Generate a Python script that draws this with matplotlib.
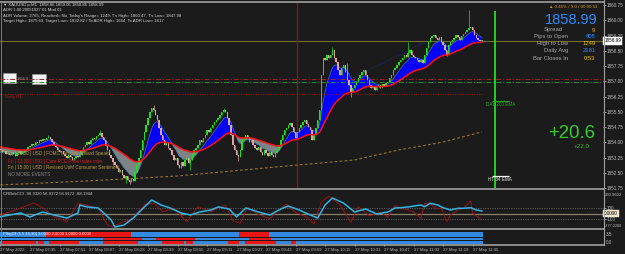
import numpy as np
import matplotlib
matplotlib.use("Agg")
import matplotlib.pyplot as plt
from matplotlib.patches import Rectangle

# ---- XAUUSD M1, 27 May 2022, first bar 07:19 ----
first_open = 1853.67
closes = [
    1853.62, 1853.52, 1853.57, 1853.42, 1853.47, 1853.38, 1853.52, 1853.42, 1853.33, 1853.47, 1853.57, 1853.42, 1853.52, 1853.62, 1853.67, 1853.77,
    1853.82, 1853.92, 1853.87, 1854.01, 1853.97, 1854.11, 1854.06, 1854.16, 1854.11, 1854.21, 1854.26, 1854.16, 1854.01, 1853.87, 1853.77, 1853.62,
    1853.52, 1853.57, 1853.42, 1853.33, 1853.23, 1853.38, 1853.28, 1853.13, 1853.23, 1853.33, 1853.28, 1853.38, 1853.62, 1853.77, 1853.87, 1854.01,
    1853.92, 1854.11, 1854.21, 1854.16, 1854.31, 1854.36, 1854.46, 1854.26, 1854.11, 1853.82, 1853.62, 1853.38, 1853.23, 1853.03, 1852.88, 1852.74,
    1852.54, 1852.64, 1852.39, 1852.24, 1852.34, 1852.15, 1852.05, 1852.19, 1852.10, 1852.54, 1852.88, 1853.23, 1853.62, 1854.11, 1854.51, 1854.85,
    1855.20, 1855.49, 1855.69, 1855.59, 1855.34, 1855.10, 1854.70, 1854.36, 1854.11, 1853.87, 1854.01, 1853.72, 1853.62, 1853.38, 1853.13, 1853.23,
    1852.88, 1852.74, 1853.03, 1852.83, 1853.13, 1853.23, 1852.98, 1853.13, 1853.38, 1853.62, 1853.72, 1853.87, 1854.11, 1854.01, 1854.21, 1854.36,
    1854.60, 1854.51, 1854.70, 1854.85, 1855.00, 1855.10, 1855.20, 1855.34, 1855.49, 1855.59, 1855.49, 1855.20, 1854.85, 1854.36, 1853.87, 1853.62,
    1853.38, 1853.28, 1853.62, 1854.11, 1854.21, 1854.36, 1854.26, 1854.01, 1854.11, 1853.87, 1853.72, 1853.62, 1853.77, 1853.52, 1853.38, 1853.62,
    1853.47, 1853.33, 1853.52, 1853.38, 1853.28, 1853.47, 1853.62, 1853.87, 1854.11, 1854.36, 1854.60, 1854.70, 1854.85, 1854.95, 1854.75, 1854.51,
    1854.21, 1854.51, 1854.70, 1854.85, 1855.00, 1855.10, 1854.90, 1854.75, 1854.60, 1854.11, 1854.36, 1854.70, 1855.10, 1855.59, 1857.31, 1858.15,
    1858.05, 1858.29, 1858.15, 1858.29, 1858.54, 1858.15, 1857.95, 1857.56, 1857.31, 1857.65, 1857.80, 1857.46, 1857.06, 1856.82, 1856.47, 1856.67,
    1856.82, 1856.97, 1857.16, 1857.31, 1857.46, 1857.56, 1857.31, 1857.06, 1856.82, 1856.67, 1856.77, 1856.57, 1856.72, 1856.82, 1856.67, 1856.87,
    1856.77, 1856.92, 1856.97, 1857.16, 1857.31, 1857.56, 1857.65, 1857.80, 1857.95, 1858.05, 1858.15, 1858.29, 1858.20, 1858.39, 1858.54, 1858.29,
    1858.20, 1858.15, 1858.05, 1857.95, 1858.05, 1857.90, 1858.29, 1858.64, 1858.93, 1859.13, 1859.23, 1859.28, 1859.13, 1859.03, 1859.18, 1858.93,
    1858.79, 1858.54, 1858.29, 1858.79, 1858.93, 1859.03, 1859.13, 1859.28, 1859.18, 1859.03, 1859.23, 1859.33, 1859.43, 1859.52, 1859.62, 1859.67,
    1859.52, 1859.28, 1859.13, 1859.03, 1858.98, 1858.99,
]
# visible wick extremes (bar index -> price)
wick_high = {26: 1854.36, 54: 1854.60, 83: 1855.83, 121: 1855.69, 180: 1858.69,
             188: 1857.90, 221: 1858.93, 254: 1860.51}
wick_low = {61: 1852.90, 68: 1851.98, 70: 1851.95, 103: 1852.64, 129: 1853.10,
            190: 1856.23, 242: 1858.25}

# higher timeframe EMA (dotted brown), sampled at bar index
htf_ema_t = [0, 48, 96, 144, 192, 216, 240, 261]
htf_ema = [1851.90, 1852.10, 1852.34, 1852.74, 1853.13, 1853.62, 1854.01, 1854.51]

# faint trend line (bar index, price)
trend_t = [191, 229]
trend_p = [1857.16, 1858.88]

bid = 1858.99
level_red = 1857.10
level_green = 1856.95
daily_r1 = 1856.37
day200_level = 1856.04
ht34_level = 1852.35
marker_bar_green = 268.4
marker_bar_brown = 161

price_ticks = [1851.75, 1852.50, 1853.25, 1854.00, 1854.75, 1855.50, 1856.25,
               1857.00, 1857.75, 1858.50, 1859.25, 1860.00, 1860.75]

# CCI panel (bar index, value)
cci_blue_t = [0, 5, 11, 16, 20, 23, 29, 36, 42, 43, 47, 53, 56, 60, 62, 67, 72, 78, 82, 87,
              92, 98, 103, 108, 114, 118, 124, 128, 133, 140, 146, 152, 156, 162, 168, 172,
              176, 180, 186, 192, 198, 204, 210, 214, 217, 222, 228, 230, 233, 237, 240,
              244, 248, 251, 255, 258, 261]
cci_blue = [-55, -26, 9, -60, -9, 26, -26, -78, 9, 147, 112, 95, 9, -112, -233, -198, -78, 112, 233, 147,
            95, 9, -26, 26, 60, 112, 78, -60, 95, 26, -26, 78, 129, 60, -26, -78,
            147, 267, 181, 26, 78, -9, 26, 95, 100, 117, 147, 117, 176, 147, 100,
            60, 90, 90, 100, 60, 43]
cci_red_t = [0, 8, 18, 23, 29, 36, 42, 46, 53, 58, 61, 67, 72, 78, 83, 88, 94, 101, 107, 114,
             118, 122, 126, 130, 134, 140, 146, 150, 155, 160, 166, 170, 174, 178, 184, 190,
             194, 200, 206, 210, 214, 217, 221, 224, 228, 230, 233, 236, 239, 242, 244, 248,
             251, 255, 256, 260]
cci_red = [-26, 60, 181, 95, -55, -141, 181, 147, 95, -198, -228, -141, -78, 147, 181, 31, 90, -141, 117, 31,
           95, 140, -120, -170, 110, -20, -90, 40, 160, 20, -60, -180, 200, 300, 150, -150,
           120, -40, 20, -60, 140, 90, 60, 31, -83, 176, 159, 90, 90, -141, -26, 60,
           90, 216, 3, -83]

# PSig panel: red runs (first bar, last bar) per row, rest blue
psig_row1_red = [(25, 70), (130, 145)]
psig_row2_red = [(56, 76), (85, 105), (135, 146)]
psig_row3_red = [(1, 19), (21, 23), (27, 42), (56, 74), (88, 97), (98, 99), (101, 104),
                 (124, 129), (133, 149), (158, 160)]

time_ticks = [0, 16, 32, 48, 64, 80, 96, 112, 128, 144, 160, 176, 192, 208, 224, 240, 256]
time_labels = ["27 May 2022", "27 May 07:35", "27 May 07:51", "27 May 08:07", "27 May 08:23",
               "27 May 08:39", "27 May 08:55", "27 May 09:11", "27 May 09:27", "27 May 09:43",
               "27 May 09:59", "27 May 10:15", "27 May 10:31", "27 May 10:47", "27 May 11:03",
               "27 May 11:19", "27 May 11:35"]


def ema(values, period, start):
    k = 2.0 / (period + 1)
    out, prev = [], start
    for v in values:
        prev = prev + k * (v - prev)
        out.append(prev)
    return np.array(out)


BG = "#1b1b1b"
GRID = "#a0a0a0"
SANS = ["Liberation Sans", "DejaVu Sans"]
SCALE_FS = 3.3
BULL = "#1fe01f"
BEAR = "#e3a3a3"

fig = plt.figure(figsize=(6.25, 2.54), dpi=100, facecolor=BG)
W, H = 625.0, 254.0
XL = (-0.27, 326.7)


def px_axes(top, bottom):
    return fig.add_axes([0, 1 - bottom / H, 603 / W, (bottom - top) / H], facecolor="none")


ax = px_axes(2, 188)
ax_cci = px_axes(190, 229)
ax_sig = px_axes(230, 244)
for a in (ax, ax_cci, ax_sig):
    a.set_xlim(*XL)
    for s in a.spines.values():
        s.set_visible(False)
    a.tick_params(axis="x", bottom=False, labelbottom=False)

# overlay in pixel units (frame, panel texts)
ov = fig.add_axes([0, 0, 1, 1], facecolor="none")
ov.set_xlim(0, W)
ov.set_ylim(H, 0)
ov.axis("off")

# ---- main price panel ----
t = np.arange(len(closes))
c = np.array(closes)
o = np.array([first_open] + closes[:-1])
hi = np.maximum(o, c)
lo = np.minimum(o, c)
for i, v in wick_high.items():
    hi[i] = max(hi[i], v)
for i, v in wick_low.items():
    lo[i] = min(lo[i], v)
up = c >= o
cols = np.where(up, BULL, BEAR)

fast = ema(closes, 8, 1853.47)
slow = ema(closes, 34, 1853.77)

ax.set_ylim(1851.75, 1860.90)
ax.fill_between(t, fast, slow, where=fast >= slow, interpolate=True, color="#0000ff", lw=0, zorder=1)
ax.fill_between(t, fast, slow, where=fast < slow, interpolate=True, color="#7c8486", lw=0, zorder=1)
ax.plot(t, fast, color="#3a7fa8", lw=0.5, zorder=1.5)
ax.plot(htf_ema_t, htf_ema, color="#9a7430", lw=0.8, ls=(0, (2.5, 2)), zorder=1.5)
ax.plot(trend_t, trend_p, color="#1c2c8c", lw=0.6, ls=(0, (1.5, 1.5)), zorder=1.5)

# price-label boxes of the two level lines (left edge)
ax.add_patch(Rectangle((3.3, 72.7), 12.7, 10, fc="#f4f4f4", ec="#9a9a9a", lw=0.4,
                       transform=ov.transData, zorder=1.8))
ax.add_patch(Rectangle((32.3, 74), 13.4, 10, fc="#f4f4f4", ec="#9a9a9a", lw=0.4,
                       transform=ov.transData, zorder=1.8))

ax.axhline(bid, color="#6e6e2e", lw=0.8, zorder=0.5)
ax.axhline(level_red, color="#a82020", lw=0.7, ls=(0, (5, 2, 1, 2)), zorder=2)
ax.axhline(level_green, color="#1f9a1f", lw=0.7, ls=(0, (5, 2, 1, 2)), zorder=2)
ax.hlines(daily_r1, XL[0], 261, color="#b01010", lw=0.7, ls=(0, (1, 1.5)), zorder=2)
ax.axvline(marker_bar_brown, color="#5a2a1e", lw=1.0, zorder=0.6)
ax.vlines(marker_bar_green, 1851.75, 1860.45, color="#22ee22", lw=1.2, zorder=3)
ax.hlines(day200_level, 266.5, 275.5, color="#22aa22", lw=0.8, zorder=3)
ax.hlines(ht34_level, 266.5, 276, color="#f0f0f0", lw=0.9, zorder=3)

ax.vlines(t, lo, hi, colors=cols, lw=0.5, zorder=4)
ax.bar(t, np.maximum(np.abs(c - o), 0.03), bottom=np.minimum(o, c), width=0.75,
       color=cols, lw=0, zorder=4)
ax.plot(t, slow, color="#ff1010", lw=1.1, zorder=5)

ax.yaxis.tick_right()
ax.set_yticks(price_ticks)
ax.set_yticklabels([f"{p:.2f}" for p in price_ticks])
ax.tick_params(axis="y", colors="#bdbdbd", labelsize=SCALE_FS, length=2, width=0.5, pad=0.8)
for lbl in ax.get_yticklabels():
    lbl.set_fontfamily(SANS)
ax.text(1.002, bid, f"{bid:.2f}", transform=ax.get_yaxis_transform(), fontsize=SCALE_FS,
        family=SANS, color="#000000", va="center", ha="left",
        bbox=dict(boxstyle="square,pad=0.3", fc="#ffffff", ec="#ffffff", lw=0.3))

# ---- CCI panel ----
ax_cci.set_ylim(-267, 405)
ax_cci.axhline(100, color="#8a8a8a", lw=0.5, ls=(0, (1, 1.5)))
ax_cci.axhline(-100, color="#8a8a8a", lw=0.5, ls=(0, (1, 1.5)))
ax_cci.axhline(0, color="#8c7e66", lw=0.9)
ax_cci.plot(cci_red_t, cci_red, color="#9e1212", lw=0.7)
ax_cci.plot(cci_blue_t, cci_blue, color="#2fb4e6", lw=1.1)
ax_cci.yaxis.tick_right()
ax_cci.set_yticks([100, -100])
ax_cci.set_yticklabels(["100", "-100"])
ax_cci.tick_params(axis="y", colors="#bdbdbd", labelsize=SCALE_FS, length=2, width=0.5, pad=0.8)
for lbl in ax_cci.get_yticklabels():
    lbl.set_fontfamily(SANS)
ax_cci.text(1.003, 0.86, "290.9602", transform=ax_cci.transAxes, fontsize=3.0, family=SANS,
            color="#bdbdbd", va="center")
ax_cci.text(1.003, 0.08, "-277.2200", transform=ax_cci.transAxes, fontsize=2.8, family=SANS,
            color="#bdbdbd", va="center")
ax_cci.text(1.002, 0, "0.0000", transform=ax_cci.get_yaxis_transform(), fontsize=SCALE_FS,
            family=SANS, color="#000000", va="center", ha="left",
            bbox=dict(boxstyle="square,pad=0.2", fc="#f2e6cc", ec="#f2e6cc", lw=0.3))

# ---- PSig panel ----
ax_sig.set_ylim(0, 14)
rows = [(psig_row1_red, 6.7, 5.0), (psig_row2_red, 3.7, 2.6), (psig_row3_red, 0.3, 3.0)]
nbar = len(closes)
for runs, y0, hgt in rows:
    ax_sig.broken_barh([(-0.5, nbar)], (y0, hgt), color="#3289e2", lw=0)
    ax_sig.broken_barh([(a - 0.5, b - a + 1) for a, b in runs], (y0, hgt), color="#ea1616", lw=0)
ax_sig.set_yticks([])
ax_sig.set_xticks(time_ticks)
ax_sig.set_xticklabels(time_labels)
ax_sig.tick_params(axis="x", bottom=True, labelbottom=True, colors="#bdbdbd", labelsize=3.1,
                   length=1.5, width=0.5, pad=1.2)
for lbl in ax_sig.get_xticklabels():
    lbl.set_fontfamily(SANS)
    lbl.set_ha("left")

# ---- frame and indicator texts ----
for yy in (1.5, 189, 229.3, 244.5):
    ov.plot([0, 603.5], [yy, yy], color=GRID, lw=1.2, solid_capstyle="butt")
ov.plot([603.5, 603.5], [0, 245], color=GRID, lw=0.8)
ov.plot([1.2, 1.2], [1.5, 244.5], color="#8a8a8a", lw=0.6)

ov.text(17, 79, "1856.9", fontsize=2.9, family=SANS, color="#9a9a9a", va="center")

hdr = ["\u25bc XAUUSD.p,M1  1858.86 1859.06 1858.86 1858.99",
       "ADR 1.00 20051027 01 Mod 01",
       "ADR Volume: 2765, Reached= No, Today's Range= 1249, T's High= 1860.47, T's Low= 1847.98",
       "Target High= 1875.63, Target Low= 1832.82 / To ADR High= 1664, To ADR Low= 1617"]
for k, line in enumerate(hdr):
    ov.text(3, 5 + 5.4 * k, line, fontsize=3.1, family=SANS, color="#d6d6d6", va="center")

ov.text(5, 97, "Daily R1", fontsize=3.2, family=SANS, color="#c01515", va="center")

events = [("Fri | 13:30 | USD | FOMC Member Bullard Speaks", "#b59c45"),
          ("Fri | 13:30 | USD | Core PCE Price Index m/m", "#d42020"),
          ("Fri | 15:00 | USD | Revised UoM Consumer Sentiment", "#b59c45"),
          ("NO MORE EVENTS", "#8a8a8a")]
for k, (line, col) in enumerate(events):
    ov.text(8, 154 + 7 * k, line, fontsize=3.3, family=SANS, color=col, va="center")

ov.text(486, 104, "DAY 200 EMA", fontsize=3.3, family=SANS, color="#22aa22", va="center")
ov.text(488, 179.5, "HT 34 EMA", fontsize=3.3, family=SANS, color="#e8e8e8", va="center")

ov.text(597, 7, "\u25b2 0.45% / 9.0 / 00:00:53", fontsize=3.2, family=SANS, color="#d9a020",
        va="center", ha="right")
ov.text(597.5, 20.5, "1858.99", fontsize=10.5, family=SANS, color="#2a8cff", va="center", ha="right")
info = [("Spread", "9", "#e0a010", 30),
        ("Pips to Open", "808", "#2a8cff", 36.7),
        ("High to Low", "1249", "#f0c000", 43.6),
        ("Daily Avg", "2181", "#2a8cff", 50.8),
        ("Bar Closes In", "0:53", "#f0c000", 58.5)]
for name, val, col, yy in info:
    ov.text(568 if name != "Spread" else 563, yy, name, fontsize=4.2, family=SANS,
            color="#a8a8a8", va="center", ha="right")
    ov.text(595.5, yy, val, fontsize=4.2, family=SANS, color=col, va="center", ha="right")

ov.text(595, 133.5, "+20.6", fontsize=13.4, family=SANS, color="#33cc33", va="center", ha="right")
ov.text(590, 146, "+22.0", fontsize=4.5, family=SANS, color="#33bb33", va="center", ha="right")

ov.text(3, 194, "CRBekCCI -96.3320 56.9172 56.9172 -88.1944", fontsize=3.1, family=SANS,
        color="#cfcfcf", va="center")
ov.text(3, 233.8, "PSig29 (1.5,15,30) 3.0000 2.0000 1.0000 0.0000", fontsize=3.0, family=SANS,
        color="#f0f0f0", va="center")
ov.text(606, 234, "3.5", fontsize=SCALE_FS, family=SANS, color="#bdbdbd", va="center")
ov.text(606, 242, "0.0", fontsize=SCALE_FS, family=SANS, color="#bdbdbd", va="center")

fig.savefig("out.png", dpi=100, facecolor=BG)
